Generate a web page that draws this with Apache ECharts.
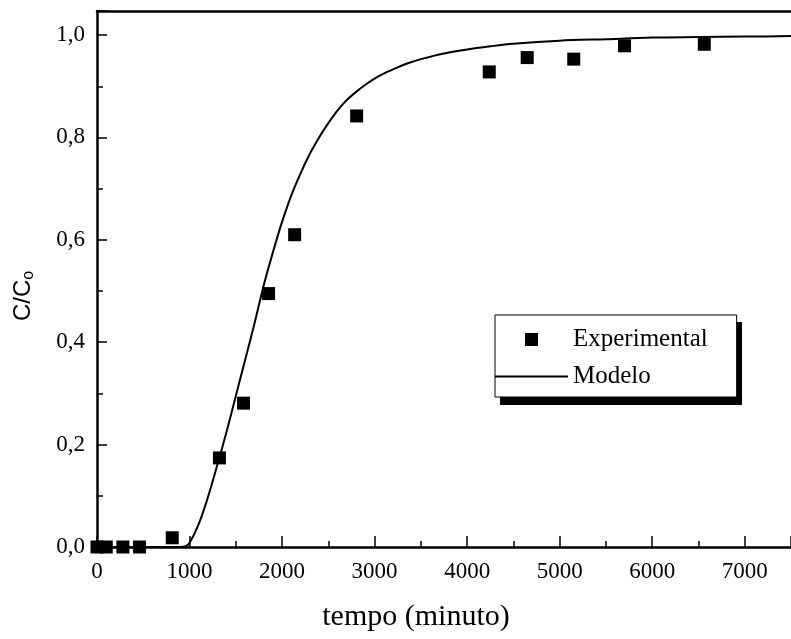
<!DOCTYPE html>
<html>
<head>
<meta charset="utf-8">
<script src="https://cdn.jsdelivr.net/npm/echarts@6/dist/echarts.min.js"></script>
<style>
  html, body { margin: 0; padding: 0; background: #fff; }
  #chart { width: 791px; height: 639px; }
</style>
</head>
<body>
<div id="chart"></div>
<script>
// dados experimentais
var expTime = [0, 100, 280, 460, 813, 1323, 1583, 1854, 2136, 2806, 4239, 4649, 5152, 5701, 6563];
var expCC = [0, 0, 0, 0, 0.018, 0.174, 0.281, 0.495, 0.610, 0.842, 0.928, 0.956, 0.953, 0.979, 0.982];

// curva do modelo
var modelTime = [0, 900, 950, 1000, 1100, 1200, 1300, 1400, 1500, 1600, 1700, 1800, 1900, 2000,
	2100, 2200, 2300, 2400, 2500, 2600, 2700, 2800, 2900, 3000, 3125, 3250, 3375, 3500, 3750, 4000, 4250,
	4500, 5000, 5500, 6000, 6500, 7000, 7500];
var modelCC = [0, 0, 0.001, 0.008, 0.045, 0.098, 0.16, 0.225, 0.295, 0.365, 0.435, 0.51, 0.575, 0.635,
	0.687, 0.73, 0.768, 0.80, 0.828, 0.853, 0.873, 0.889, 0.903, 0.915, 0.927, 0.937, 0.946, 0.953, 0.964, 0.972, 0.978,
	0.983, 0.989, 0.992, 0.995, 0.996, 0.997, 0.998];

var xTicks = { min: 0, max: 7500, interval: 1000 };
var yTicks = { min: 0, max: 1.047, interval: 0.2 };

function pairs(xs, ys) {
	var out = [];
	for (var i = 0; i < xs.length; i++) out.push([xs[i], ys[i]]);
	return out;
}

var chart = echarts.init(document.getElementById('chart'), null, { renderer: 'canvas' });

var serif = 'Liberation Serif';
// icones da legenda: caixa 73x14 com pontinhos nos cantos para fixar a escala
var squareIcon = 'path://M0,0h0.01v0.01h-0.01z M30,0.5h13v13h-13z M72.99,13.99h0.01v0.01h-0.01z';
var lineIcon = 'path://M0,0h0.01v0.01h-0.01z M0,6h73v2h-73z M72.99,13.99h0.01v0.01h-0.01z';

var option = {
	backgroundColor: '#fff',
	animation: false,
	grid: { left: 97, right: -7, top: 11, bottom: 92 },
	graphic: [{
		// sombra da caixa da legenda
		type: 'rect',
		left: 500,
		top: 322,
		shape: { width: 242, height: 83 },
		style: { fill: '#000' },
		z: 1
	}],
	legend: {
		orient: 'vertical',
		left: 495,
		top: 315,
		z: 5,
		itemWidth: 73,
		itemHeight: 14,
		itemGap: 12,
		padding: [12, 29, 8, 0],
		backgroundColor: '#fff',
		borderColor: '#000',
		borderWidth: 1,
		textStyle: { fontFamily: serif, fontSize: 25, color: '#000' },
		data: [
			{ name: 'Experimental', icon: squareIcon },
			{ name: 'Modelo', icon: lineIcon }
		]
	},
	xAxis: [{
		type: 'value',
		min: xTicks.min,
		max: xTicks.max,
		interval: xTicks.interval,
		name: 'tempo (minuto)',
		nameLocation: 'middle',
		nameGap: 55,
		nameTextStyle: { fontFamily: serif, fontSize: 30, color: '#000', padding: [0, 56, 0, 0] },
		axisLine: { lineStyle: { color: '#000', width: 2.5 } },
		axisTick: { inside: true, length: 11, lineStyle: { color: '#000', width: 1.5 } },
		minorTick: { show: true, splitNumber: 2, length: 6, lineStyle: { color: '#000', width: 1.5 } },
		splitLine: { show: false },
		axisLabel: {
			fontFamily: serif, fontSize: 23, color: '#000', margin: 13, showMaxLabel: false,
			formatter: function (v) { return String(v); }
		}
	}, {
		type: 'value',
		position: 'top',
		min: xTicks.min,
		max: xTicks.max,
		axisLine: { show: true, lineStyle: { color: '#000', width: 2.5 } },
		axisTick: { show: false },
		axisLabel: { show: false },
		splitLine: { show: false }
	}],
	yAxis: {
		type: 'value',
		min: yTicks.min,
		max: yTicks.max,
		interval: yTicks.interval,
		name: 'C/C{sub|o}',
		nameLocation: 'middle',
		nameGap: 60,
		nameTextStyle: {
			fontFamily: 'Liberation Sans', fontSize: 24, color: '#000', padding: [0, 34, 0, 0],
			rich: { sub: { fontFamily: 'Liberation Sans', fontSize: 16, color: '#000', verticalAlign: 'bottom', padding: [11, 0, 0, 0] } }
		},
		axisLine: { show: true, lineStyle: { color: '#000', width: 2.5 } },
		axisTick: { show: true, inside: true, length: 10, lineStyle: { color: '#000', width: 1.5 } },
		minorTick: { show: true, splitNumber: 2, length: 6, lineStyle: { color: '#000', width: 1.5 } },
		splitLine: { show: false },
		axisLabel: {
			fontFamily: serif, fontSize: 23, color: '#000', margin: 12, showMaxLabel: false,
			formatter: function (v) { return v.toFixed(1).replace('.', ','); }
		}
	},
	series: [{
		name: 'Modelo',
		type: 'line',
		data: pairs(modelTime, modelCC),
		smooth: 0.3,
		symbol: 'none',
		lineStyle: { color: '#000', width: 2 },
		itemStyle: { color: '#000' },
		z: 2
	}, {
		name: 'Experimental',
		type: 'scatter',
		data: pairs(expTime, expCC),
		symbol: 'rect',
		symbolSize: 13,
		itemStyle: { color: '#000', opacity: 1 },
		z: 3
	}]
};

chart.setOption(option, true);
</script>
</body>
</html>
